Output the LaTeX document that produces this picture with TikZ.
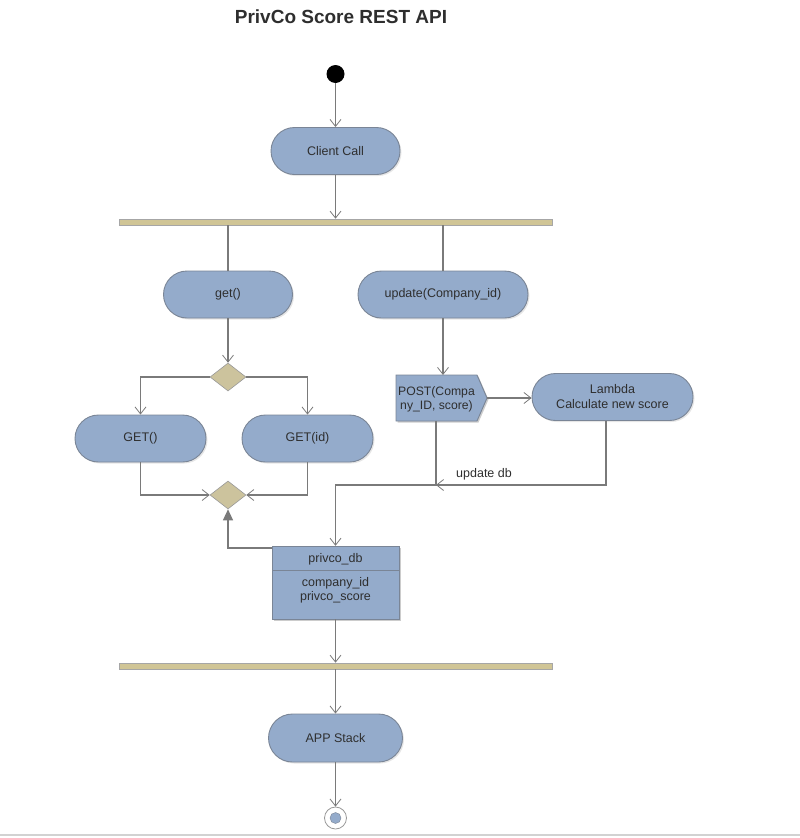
\documentclass[tikz,border=0pt]{standalone}
\usepackage{fontspec}
\setmainfont{Liberation Sans}
\usetikzlibrary{arrows.meta,shapes.geometric,shadows}
\definecolor{nodefill}{HTML}{94ABCB}
\definecolor{nodeline}{HTML}{7A8596}
\definecolor{barfill}{HTML}{D0C596}
\definecolor{dfill}{HTML}{CCC39D}
\definecolor{edge}{HTML}{7A7A7A}
\definecolor{txt}{HTML}{2E2E2E}
\tikzset{
  act/.style={draw=nodeline, fill=nodefill, line width=0.9pt, rounded corners=23.5pt,
    minimum height=47pt, inner sep=0pt, text=txt, align=center,
    font=\fontsize{12.5}{15}\selectfont,
    drop shadow={opacity=0.2, shadow xshift=1.5pt, shadow yshift=-1.5pt}},
  forkbar/.style={draw=gray!70, fill=barfill, line width=0.6pt, minimum width=433pt,
    minimum height=6pt, inner sep=0pt},
  dec/.style={diamond, draw=gray!80, fill=dfill, line width=0.6pt, minimum width=36pt,
    minimum height=28pt, inner sep=0pt},
  flow/.style={draw=edge, line width=1.25pt, -{Straight Barb[length=7pt,width=11pt,line width=0.8pt]}},
  plain/.style={draw=edge, line width=1.25pt},
  lbl/.style={text=txt, font=\fontsize{12.5}{15}\selectfont, inner sep=0pt, align=center},
}
\begin{document}
\begin{tikzpicture}[x=1pt,y=-1pt]
\useasboundingbox (0,0) rectangle (800,838);
\node[lbl, font=\fontsize{19}{22}\bfseries] (title) at (341,17) {PrivCo Score REST API};

\node[circle, fill=black, minimum size=18pt, inner sep=0pt] (start) at (335.5,74) {};
\node[act, minimum width=129pt] (client) at (335.5,151) {Client Call};
\node[forkbar] (bar1) at (335.5,222) {};
\node[act, minimum width=129pt] (get) at (228,294.5) {get()};
\node[act, minimum width=170pt] (upd) at (443,294.5) {update(Company\_id)};
\node[dec] (d1) at (228,377) {};
\node[act, minimum width=131pt] (get0) at (140.5,438.5) {GET()};
\node[act, minimum width=131pt] (getid) at (307.5,438.5) {GET(id)};
\node[dec] (d2) at (228,495) {};

% POST signal shape
\fill[black, opacity=0.2] (397.5,376.5) -- (478.5,376.5) -- (488.5,399.5) -- (478.5,422.5) -- (397.5,422.5) -- cycle;
\draw[draw=nodeline, fill=nodefill, line width=0.9pt] (396,375) -- (477,375) -- (487,398) -- (477,421) -- (396,421) -- cycle;
\coordinate (posttip) at (487,398);
\coordinate (posttop) at (443,375);
\coordinate (postbot) at (436,421);
\node[lbl, font=\fontsize{12.2}{14.5}\selectfont] (post) at (436.5,399.5) {POST(Compa\\ny\_ID, score)};

\node[act, minimum width=161pt] (lambda) at (612.5,397) {Lambda\\Calculate new score};

% privco_db
\fill[black, opacity=0.2] (273.5,547.5) rectangle (400.5,620.5);
\draw[draw=nodeline, fill=nodefill, line width=0.9pt] (272,546) rectangle (399,619);
\draw[draw=nodeline, line width=0.9pt] (272,570) -- (399,570);
\node[minimum width=127pt, minimum height=73pt, inner sep=0pt] (db) at (335.5,582.5) {};
\node[lbl] (dbname) at (335.5,559) {privco\_db};
\node[lbl, font=\fontsize{12.5}{14.5}\selectfont] (dbattr) at (335.5,590.5) {company\_id\\privco\_score};

\node[forkbar] (bar2) at (335.5,666) {};
\node[act, minimum width=134pt, minimum height=48pt, rounded corners=24pt] (app) at (335.5,738) {APP Stack};
\node[circle, draw=gray!80, fill=white, line width=0.8pt, minimum size=22pt, inner sep=0pt] (endo) at (335.5,818) {};
\node[circle, draw=nodeline, fill=nodefill, line width=0.4pt, minimum size=11pt, inner sep=0pt] (endi) at (335.5,818) {};

% connectors
\draw[flow] (start) -- (client);
\draw[flow] (client) -- (bar1);
\draw[plain] (get.north |- bar1.south) -- (get.north);
\draw[plain] (upd.north |- bar1.south) -- (upd.north);
\draw[flow] (get) -- (d1.north);
\draw[flow] (d1.west) -| (get0.north);
\draw[flow] (d1.east) -| (getid.north);
\draw[flow] (get0.south) |- (d2.west);
\draw[flow] (getid.south) |- (d2.east);
\draw[flow] (upd.south -| posttop) -- (posttop);
\draw[flow] (posttip) -- (lambda.west |- posttip);
\coordinate (join) at (436,485);
\coordinate (lamb) at (606,421);
\draw[flow] (postbot) -- (join) -| (db.north);
\draw[flow] (lamb) |- (join);
\node[lbl] (updlbl) at (484,474) {update db};
\draw[draw=edge, line width=1.25pt, -{Triangle[length=11pt,width=10pt]}] (272,548) -| (d2.south);
\draw[flow] (db.south) -- (bar2);
\draw[flow] (bar2.south) -- (app.north);
\draw[flow] (app) -- (endo);
\draw[gray!35, line width=1.5pt] (0,835) -- (800,835);
\end{tikzpicture}
\end{document}
